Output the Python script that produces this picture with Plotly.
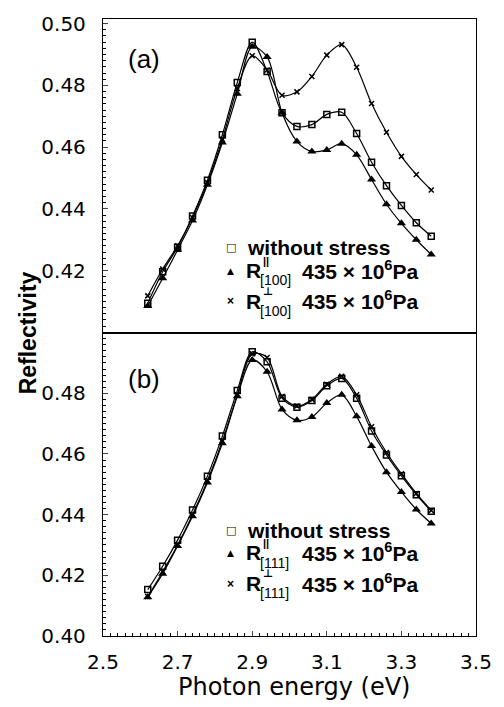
import plotly.graph_objects as go
from plotly.subplots import make_subplots

# ---------------- data ----------------
energy = [2.62, 2.66, 2.70, 2.74, 2.78, 2.82, 2.86, 2.90, 2.94, 2.98,
          3.02, 3.06, 3.10, 3.14, 3.18, 3.22, 3.26, 3.30, 3.34, 3.38]

# panel (a): [100]
a_without = [0.4094, 0.4196, 0.4276, 0.4377, 0.4493, 0.4640, 0.4809, 0.4940, 0.4845, 0.4711,
             0.4667, 0.4673, 0.4706, 0.4713, 0.4644, 0.4551, 0.4475, 0.4411, 0.4355, 0.4311]
a_par = [0.4085, 0.4175, 0.4267, 0.4362, 0.4478, 0.4615, 0.4773, 0.4925, 0.4892, 0.4711,
         0.4618, 0.4586, 0.4591, 0.4611, 0.4575, 0.4495, 0.4415, 0.4353, 0.4300, 0.4252]
a_perp = [0.4118, 0.4205, 0.4280, 0.4372, 0.4485, 0.4625, 0.4790, 0.4896, 0.4850, 0.4768,
          0.4779, 0.4829, 0.4898, 0.4932, 0.4859, 0.4741, 0.4648, 0.4570, 0.4511, 0.4461]

# panel (b): [111]
b_without = [0.4153, 0.4230, 0.4316, 0.4415, 0.4527, 0.4659, 0.4809, 0.4937, 0.4904, 0.4784,
             0.4754, 0.4776, 0.4825, 0.4849, 0.4784, 0.4676, 0.4597, 0.4528, 0.4466, 0.4411]
b_par = [0.4128, 0.4205, 0.4297, 0.4395, 0.4506, 0.4635, 0.4790, 0.4910, 0.4871, 0.4747,
         0.4711, 0.4722, 0.4768, 0.4795, 0.4724, 0.4626, 0.4540, 0.4475, 0.4417, 0.4371]
b_perp = [0.4130, 0.4212, 0.4300, 0.4400, 0.4512, 0.4642, 0.4795, 0.4930, 0.4918, 0.4790,
          0.4758, 0.4780, 0.4830, 0.4856, 0.4795, 0.4690, 0.4605, 0.4535, 0.4470, 0.4414]

x_ticks = [2.5, 2.7, 2.9, 3.1, 3.3, 3.5]
ya_ticks = [0.42, 0.44, 0.46, 0.48, 0.50]
yb_ticks = [0.40, 0.42, 0.44, 0.46, 0.48]

# ---------------- layout geometry ----------------
W, H = 504, 707
L, R, T, B = 103, 488, 13, 636
SPLIT = 330
dom_b_top = (B - SPLIT) / (B - T)

fig = make_subplots(rows=2, cols=1, shared_xaxes=False, vertical_spacing=0)

sq = dict(symbol="square-open", size=6, color="black", line=dict(width=1.5, color="black"))
tri = dict(symbol="triangle-up", size=8, color="black", line=dict(width=0))
crs = dict(symbol="x-thin-open", size=5, color="black", line=dict(width=1.5, color="black"))
ln = dict(color="black", width=1.2, shape="spline", smoothing=0.9)

for row, (w, p, q) in enumerate([(a_without, a_par, a_perp), (b_without, b_par, b_perp)], start=1):
    for ys, mk in [(w, sq), (p, tri), (q, crs)]:
        fig.add_trace(go.Scatter(x=energy, y=ys, mode="lines+markers", line=ln,
                                 marker=mk, showlegend=False, cliponaxis=True), row=row, col=1)

tickfont = dict(family="DejaVu Sans", size=20, color="black")
common_x = dict(range=[2.5, 3.5], showline=True, linecolor="black", linewidth=1.3,
                mirror=True, showgrid=False, zeroline=False)
fig.update_xaxes(common_x, row=1, col=1, ticks="", showticklabels=False)
fig.update_xaxes(common_x, row=2, col=1, ticks="inside", ticklen=5, tickwidth=1,
                 tickvals=x_ticks, ticktext=[f"{v:.1f}" for v in x_ticks],
                 tickfont=tickfont, ticklabelstandoff=8,
                 minor=dict(ticks="inside", dtick=0.02, tick0=2.5, ticklen=3, tickwidth=1,
                            tickcolor="black"))
common_y = dict(showline=True, linecolor="black", linewidth=1.3, mirror=True,
                showgrid=False, zeroline=False, ticks="inside", ticklen=5, tickwidth=1,
                tickfont=tickfont, ticklabelstandoff=12,
                minor=dict(ticks="inside", dtick=0.002, tick0=0.40, ticklen=3, tickwidth=1,
                           tickcolor="black"))
fig.update_yaxes(common_y, row=1, col=1, range=[0.3998, 0.5015],
                 tickvals=ya_ticks, ticktext=[f"{v:.2f}" for v in ya_ticks],
                 domain=[dom_b_top, 1])
fig.update_yaxes(common_y, row=2, col=1, range=[0.40, 0.4999],
                 tickvals=yb_ticks, ticktext=[f"{v:.2f}" for v in yb_ticks],
                 domain=[0, dom_b_top])


def px(xp):
    return (xp - L) / (R - L)


def py(yp):
    return (B - yp) / (B - T)


ann = []


def txt(text, x, y, size, bold=False, xanchor="left", yanchor="middle", family="Liberation Sans",
        angle=0):
    if bold:
        text = f"<b>{text}</b>"
    ann.append(dict(text=text, x=px(x), y=py(y), xref="paper", yref="paper",
                    xanchor=xanchor, yanchor=yanchor, showarrow=False, textangle=angle,
                    font=dict(family=family, size=size, color="black")))


# panel labels
txt("(a)", 127, 53, 26)
txt("(b)", 127, 377, 26)


def legend(y0, sub):
    # row 1
    txt("□", 235, y0, 11, bold=True, xanchor="center", family="DejaVu Sans")
    txt("without stress", 250, y0, 21, bold=True)
    # row 2 (parallel)
    y1 = y0 + 23
    txt("▲", 235, y1, 9, xanchor="center", family="DejaVu Sans")
    txt("R", 249, y1, 21, bold=True)
    txt("||", 266, y1 - 10, 11, bold=True)
    txt(sub, 263, y1 + 10, 14)
    txt("435 × 10<sup>6</sup>Pa", 306, y1 - 1, 21, bold=True)
    # row 3 (perpendicular)
    y2 = y0 + 54
    txt("×", 235, y2, 12, bold=True, xanchor="center")
    txt("R", 249, y2, 21, bold=True)
    txt("⊥", 266, y2 - 10, 11, bold=True, family="DejaVu Sans")
    txt(sub, 263, y2 + 10, 14)
    txt("435 × 10<sup>6</sup>Pa", 306, y2 - 1, 21, bold=True)


legend(244, "[100]")
legend(529, "[111]")

# axis titles
txt("Reflectivity", 26, 330, 23, bold=True, xanchor="center", angle=-90)
txt("Photon energy (eV)", 300, 688, 24, xanchor="center", family="DejaVu Sans")

fig.update_layout(width=W, height=H, margin=dict(l=L, r=W - R, t=T, b=H - B),
                  plot_bgcolor="white", paper_bgcolor="white", annotations=ann,
                  showlegend=False)

fig.write_html("out.html")
